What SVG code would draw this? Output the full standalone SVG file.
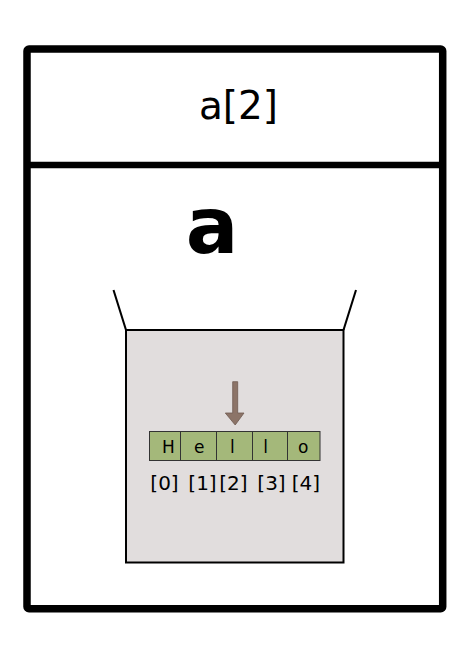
<svg xmlns="http://www.w3.org/2000/svg" width="469" height="651" viewBox="0 0 469 651">
<style>
text{font-family:"DejaVu Sans","Liberation Sans",sans-serif;fill:#000;text-anchor:middle}
.cell{fill:#a4b87a;stroke:#333;stroke-width:1}
.ct{font-size:17px}
.idx{font-size:20px}
</style>
<rect width="469" height="651" fill="#fff"/>
<g id="frame">
<rect x="27" y="49" width="415.7" height="559.8" rx="2" fill="#fff" stroke="#000" stroke-width="7.5"/>
<line x1="27" y1="165" x2="442.7" y2="165" stroke="#000" stroke-width="6.5"/>
<text x="238.5" y="119" font-size="39">a[2]</text>
<text x="212" y="253" font-size="78" font-weight="bold">a</text>
</g>
<g id="bucket">
<line x1="113.5" y1="290" x2="126" y2="330" stroke="#000" stroke-width="2"/>
<line x1="356" y1="290" x2="343.5" y2="330" stroke="#000" stroke-width="2"/>
<rect x="126" y="330" width="217.5" height="232.5" fill="#e1dddd" stroke="#000" stroke-width="2"/>
</g>
<g id="array">
<rect class="cell" x="149.5" y="431.5" width="31" height="29"/>
<rect class="cell" x="180.5" y="431.5" width="36" height="29"/>
<rect class="cell" x="216.5" y="431.5" width="36" height="29"/>
<rect class="cell" x="252.5" y="431.5" width="35" height="29"/>
<rect class="cell" x="287.5" y="431.5" width="32.5" height="29"/>
<text class="ct" x="168.5" y="453">H</text>
<text class="ct" x="199.3" y="453">e</text>
<text class="ct" x="232.3" y="453">l</text>
<text class="ct" x="265.7" y="453">l</text>
<text class="ct" x="303.3" y="453">o</text>
<text class="idx" x="164.5" y="489.5">[0]</text>
<text class="idx" x="202.5" y="489.5">[1]</text>
<text class="idx" x="233.3" y="489.5">[2]</text>
<text class="idx" x="271.5" y="489.5">[3]</text>
<text class="idx" x="305.8" y="489.5">[4]</text>
</g>
<g id="connectors">
<path d="M232.7 381.7 H237.7 V413 H244 L235.2 425 L225.3 413 H232.7 Z" fill="#8c7468" stroke="#6e5a50" stroke-width="0.8"/>
</g>
</svg>
